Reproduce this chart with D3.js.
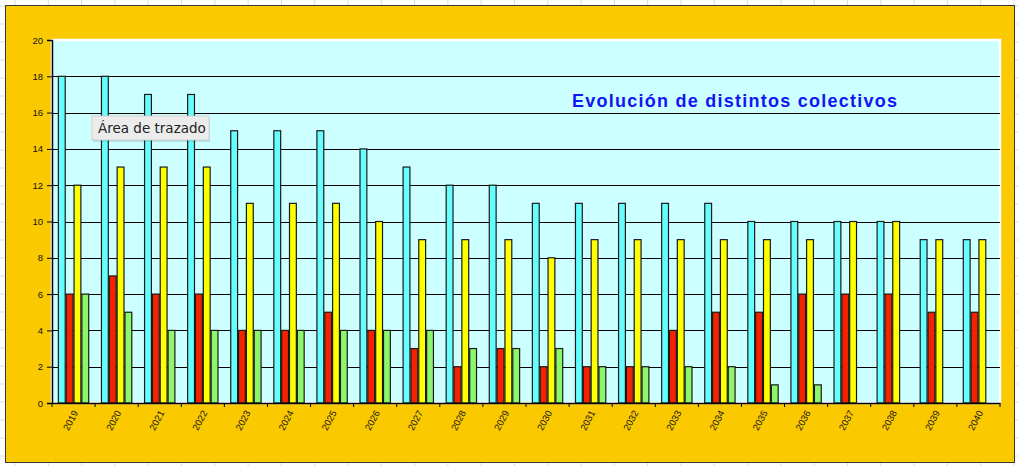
<!DOCTYPE html>
<html>
<head>
<meta charset="utf-8">
<script src="https://cdn.jsdelivr.net/npm/d3@7"></script>
<style>
  html, body { margin: 0; padding: 0; background: #fff; }
  svg { display: block; font-family: "Liberation Sans", Arial, sans-serif; }
</style>
</head>
<body>
<svg id="chart"></svg>
<script>
const years = d3.range(2019, 2041).map(String);
const serieA = [18, 18, 17, 17, 15, 15, 15, 14, 13, 12, 12, 11, 11, 11, 11, 11, 10, 10, 10, 10, 9, 9];
const serieB = [6, 7, 6, 6, 4, 4, 5, 4, 3, 2, 3, 2, 2, 2, 4, 5, 5, 6, 6, 6, 5, 5];
const serieC = [12, 13, 13, 13, 11, 11, 11, 10, 9, 9, 9, 8, 9, 9, 9, 9, 9, 9, 10, 10, 9, 9];
const serieD = [6, 5, 4, 4, 4, 4, 4, 4, 4, 3, 3, 3, 2, 2, 2, 2, 1, 1, 0, 0, 0, 0];
const colores = ['#66ffff', '#f52200', '#ffff00', '#8cf76a'];
const yTicks = d3.range(0, 21, 2);

const width = 1018;
const height = 466;
const plot = { left: 52, top: 40, right: 1000, bottom: 403 };

const svg = d3.select('#chart')
  .attr('width', width)
  .attr('height', height);

// spreadsheet cells behind the chart
const cells = svg.append('g').attr('stroke', '#dcdcdc').attr('stroke-width', 1);
cells.selectAll('line.v')
  .data(d3.range(15, width, 33.3))
  .enter().append('line')
  .attr('x1', d => d).attr('x2', d => d)
  .attr('y1', 0).attr('y2', height);
cells.selectAll('line.h')
  .data(d3.range(6, height, 18))
  .enter().append('line')
  .attr('x1', 0).attr('x2', width)
  .attr('y1', d => d).attr('y2', d => d);

// chart area
svg.append('rect')
  .attr('x', 5.5).attr('y', 5.5)
  .attr('width', 1009).attr('height', 457)
  .attr('fill', '#fbc900')
  .attr('stroke', '#3a3a3a');

const x = d3.scaleBand()
  .domain(years)
  .range([plot.left, plot.right]);

const y = d3.scaleLinear()
  .domain([0, 20])
  .range([plot.bottom, plot.top]);

const barW = x.bandwidth() / 5.5;
const sub = d3.scaleBand()
  .domain([0, 1, 2, 3])
  .range([barW * 0.75, barW * 4.75]);

// plot area
svg.append('rect')
  .attr('x', plot.left).attr('y', plot.top)
  .attr('width', plot.right - plot.left)
  .attr('height', plot.bottom - plot.top)
  .attr('fill', '#ccffff')
  .attr('stroke', '#ffffff')
  .attr('stroke-width', 2.5);

// gridlines
svg.append('g')
  .selectAll('line')
  .data(yTicks.filter(d => d > 0 && d < 20))
  .enter().append('line')
  .attr('x1', plot.left).attr('x2', plot.right)
  .attr('y1', d => Math.round(y(d)) + 0.5)
  .attr('y2', d => Math.round(y(d)) + 0.5)
  .attr('stroke', '#000')
  .attr('stroke-width', 1.2);

// bars
const series = [serieA, serieB, serieC, serieD];
const rows = [];
series.forEach((s, k) => s.forEach((v, i) => rows.push({ year: years[i], k: k, v: v })));

svg.append('g')
  .selectAll('rect')
  .data(rows.filter(d => d.v > 0))
  .enter().append('rect')
  .attr('x', d => x(d.year) + sub(d.k) + 0.5)
  .attr('y', d => y(d.v))
  .attr('width', barW - 1)
  .attr('height', d => y(0) - y(d.v))
  .attr('fill', d => colores[d.k])
  .attr('stroke', '#1a1a1a')
  .attr('stroke-width', 1.2);

// axes
const yAxis = svg.append('g')
  .attr('transform', `translate(${plot.left},0)`)
  .call(d3.axisLeft(y).tickValues(yTicks).tickSize(5).tickPadding(4));

const xAxis = svg.append('g')
  .attr('transform', `translate(0,${plot.bottom})`)
  .call(d3.axisBottom(x).tickSize(0).tickPadding(6));

[yAxis, xAxis].forEach(a => {
  a.select('.domain').attr('stroke', '#000').attr('stroke-width', 1.5);
  a.selectAll('.tick line').attr('stroke', '#000');
  a.selectAll('text').attr('fill', '#111').attr('font-size', 9.5)
    .attr('font-family', '"Liberation Sans", Arial, sans-serif');
});

xAxis.selectAll('.tick text')
  .attr('text-anchor', 'end')
  .attr('dy', '0.35em')
  .attr('transform', 'translate(2,8) rotate(-62)')
  .attr('y', 0).attr('x', 0);

// category boundary ticks
xAxis.append('g')
  .selectAll('line')
  .data(years.concat(['end']))
  .enter().append('line')
  .attr('x1', (d, i) => plot.left + i * x.step())
  .attr('x2', (d, i) => plot.left + i * x.step())
  .attr('y1', 0).attr('y2', 4)
  .attr('stroke', '#000');

// title
svg.append('text')
  .attr('x', 572).attr('y', 107)
  .attr('font-size', 18)
  .attr('letter-spacing', 1.25)
  .attr('font-weight', 'bold')
  .attr('fill', '#1414f5')
  .text('Evolución de distintos colectivos');

// tooltip
const tip = svg.append('g').attr('transform', 'translate(92,116)');
tip.append('rect')
  .attr('x', 1).attr('y', 2)
  .attr('width', 117).attr('height', 24)
  .attr('fill', 'rgba(0,0,0,0.12)');
tip.append('rect')
  .attr('width', 117).attr('height', 24)
  .attr('fill', '#ececec')
  .attr('stroke', '#d0d0d0');
tip.append('text')
  .attr('x', 6).attr('y', 17)
  .attr('font-size', 13.5)
  .attr('fill', '#222')
  .attr('font-family', '"DejaVu Sans", "Liberation Sans", sans-serif')
  .text('Área de trazado');
</script>
</body>
</html>
